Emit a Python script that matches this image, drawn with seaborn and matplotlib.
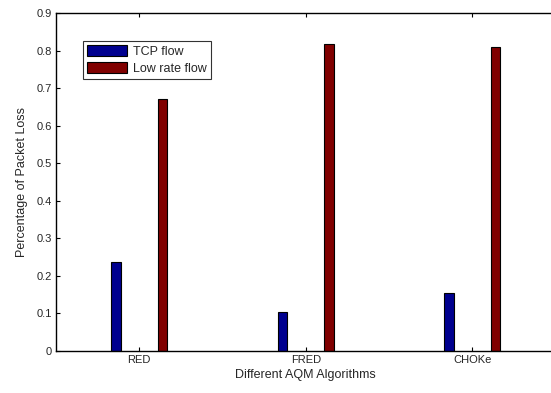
import numpy as np
import pandas as pd
import matplotlib; matplotlib.use("Agg")
import matplotlib.pyplot as plt
import seaborn as sns

sns.set_theme(style="white")
plt.rcParams["font.family"] = ["Liberation Sans", "DejaVu Sans"]

# data
algorithms = ["RED", "FRED", "CHOKe"]
tcp_loss = [0.238, 0.104, 0.153]
low_rate_loss = [0.670, 0.817, 0.810]
series = ["TCP flow", "Low rate flow"]
y_ticks = [0, 0.1, 0.2, 0.3, 0.4, 0.5, 0.6, 0.7, 0.8, 0.9]
y_tick_labels = ["0", "0.1", "0.2", "0.3", "0.4", "0.5", "0.6", "0.7", "0.8", "0.9"]

df = pd.DataFrame({
    "algo": algorithms * 2,
    "flow": [series[0]] * 3 + [series[1]] * 3,
    "loss": tcp_loss + low_rate_loss,
})

fig = plt.figure(figsize=(5.51, 3.93), dpi=100)
ax = fig.add_axes([0.1016, 0.107, 0.9065, 0.860])

sns.barplot(data=df, x="algo", y="loss", hue="flow", order=algorithms,
            hue_order=series, palette=["#00008f", "#800000"],
            width=0.56, gap=0.79, edgecolor="black", linewidth=0.8,
            saturation=1, errorbar=None, ax=ax)

ax.set_xlim(-0.5, 2.5)
ax.set_ylim(0, 0.9)
ax.set_yticks(y_ticks)
ax.set_yticklabels(y_tick_labels)
ax.tick_params(direction="in", length=3, width=0.8, labelsize=8, color="black",
               top=True, right=True, bottom=True, left=True, pad=3)
ax.set_xlabel("Different AQM Algorithms", fontsize=9, labelpad=3)
ax.set_ylabel("Percentage of Packet Loss", fontsize=9, labelpad=6)
for s in ax.spines.values():
    s.set_color("black")
    s.set_linewidth(1.0)

leg = ax.legend(loc="upper left", bbox_to_anchor=(0.054, 0.917), fontsize=9,
                frameon=True, fancybox=False, edgecolor="black",
                handlelength=3.2, handleheight=0.95, borderpad=0.35,
                labelspacing=0.3, handletextpad=0.45, borderaxespad=0)
leg.get_frame().set_linewidth(0.8)

fig.savefig("out.png", dpi=100)
